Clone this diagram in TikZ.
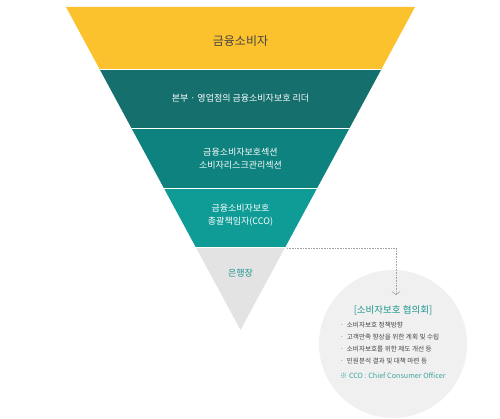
\documentclass[tikz,border=0pt]{standalone}
\usepackage{fontspec}
\setmainfont{Noto Sans CJK KR}
\usepackage{tikz}
\usetikzlibrary{positioning,arrows.meta,calc}
\definecolor{fyellow}{HTML}{FBC22D}
\definecolor{fdark}{HTML}{146F6D}
\definecolor{fmid}{HTML}{0D827E}
\definecolor{flight}{HTML}{0F9C97}
\definecolor{fgrey}{HTML}{E3E3E3}
\definecolor{fcircle}{HTML}{F0F0F0}
\definecolor{fteal}{HTML}{1E958F}
\definecolor{ftext}{HTML}{444444}

\begin{document}
\begin{tikzpicture}[x=1pt,y=-1pt,
    lvl/.style={font=\fontsize{9}{13}\selectfont,align=center,text=white},
    sep/.style={white,line width=0.8pt},
    conn/.style={draw=gray!70,densely dotted,line width=0.6pt,-{Straight Barb[length=3pt,width=8pt]}},
    item/.style={font=\fontsize{6.6}{8}\selectfont,text=ftext,inner sep=0pt}
  ]
  \useasboundingbox (0,0) rectangle (500,419);

  % Funnel
  \coordinate (tl) at (66,7);
  \coordinate (tr) at (415,7);
  \coordinate (apex) at (240.5,330);
  \begin{scope}
    \clip (tl) -- (tr) -- (apex) -- cycle;
    \fill[fyellow] (60,0) rectangle (420,69);
    \fill[fdark] (60,69) rectangle (420,128);
    \fill[fmid] (60,128) rectangle (420,188);
    \fill[flight] (60,188) rectangle (420,247);
    \fill[fgrey] (60,247) rectangle (420,335);
    \draw[sep] (60,69) -- (420,69);
    \draw[sep] (60,128) -- (420,128);
    \draw[sep] (60,188) -- (420,188);
    \draw[sep] (60,247) -- (420,247);
  \end{scope}

  % Levels
  \node[font=\fontsize{12}{14}\selectfont,text=ftext] (consumer) at (240.5,41) {금융소비자};
  \node[lvl] (leader) at (240.5,98) {본부 · 영업점의 금융소비자보호 리더};
  \node[lvl] (section) at (240.5,158.5) {금융소비자보호섹션\\소비자리스크관리섹션};
  \node[lvl] (cco) at (240.5,215.5) {금융소비자보호\\총괄책임자(CCO)};
  \node[lvl,text=fteal] (ceo) at (240.5,273) {은행장};

  % Council
  \node[circle,fill=fcircle,minimum size=148pt,inner sep=0pt] (council) at (393,344) {};
  \node[font=\fontsize{9.5}{11}\selectfont,text=fteal] (title) at (393,310) {[소비자보호 협의회]};
  \node[item,anchor=north west] (i1) at (340,321.5) {·\ \ 소비자보호 정책방향};
  \node[item,below=5.6pt of i1.south west,anchor=north west] (i2) {·\ \ 고객만족 향상을 위한 계획 및 수립};
  \node[item,below=5.6pt of i2.south west,anchor=north west] (i3) {·\ \ 소비자보호를 위한 제도 개선 등};
  \node[item,below=5.6pt of i3.south west,anchor=north west] (i4) {·\ \ 민원분석 결과 및 대책 마련 등};
  \node[item,font=\fontsize{7.2}{8}\selectfont,text=fteal!85,below=8.5pt of i4.south west,anchor=north west] (note) {※ CCO : Chief Consumer Officer};

  \coordinate (cco-edge) at (287,248);
  \coordinate (council-in) at (396,295);
  \draw[conn] (cco-edge) -| (council-in);
\end{tikzpicture}
\end{document}
